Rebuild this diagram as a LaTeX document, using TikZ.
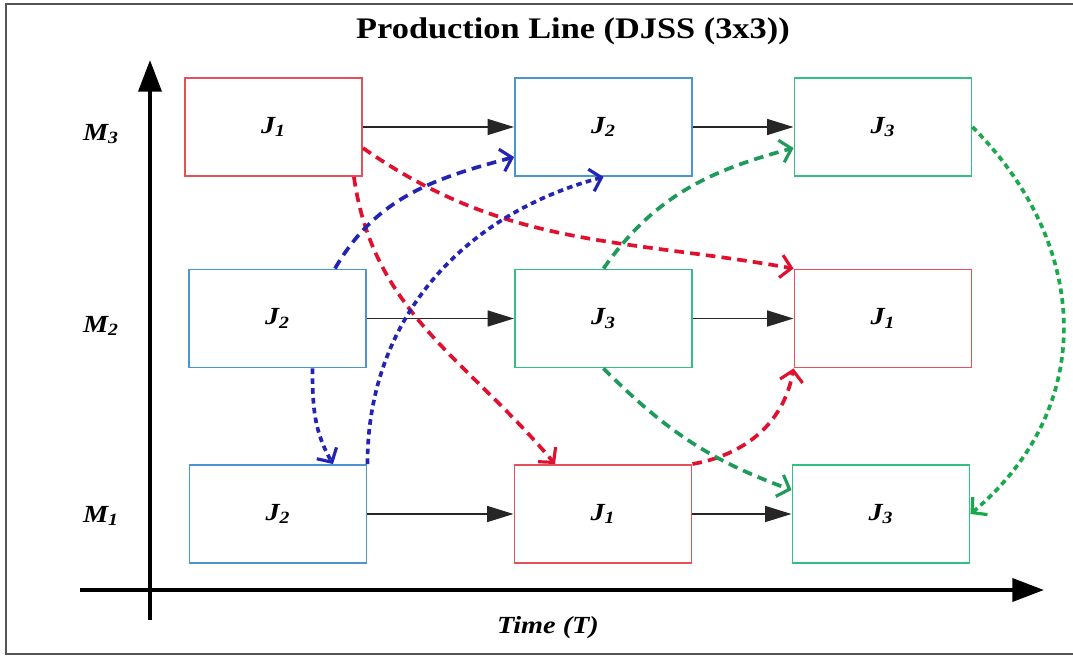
\documentclass[tikz,border=0pt]{standalone}
\usepackage{fontspec}
\setmainfont{Liberation Serif}[FakeStretch=1.15]
\usepackage{xcolor}
\usepackage{tikz}
\usetikzlibrary{positioning, arrows.meta, calc}
\definecolor{jobred}{HTML}{E4505C}
\definecolor{jobblue}{HTML}{4A96D2}
\definecolor{jobgreen}{HTML}{33BE82}
\definecolor{flowred}{HTML}{E0102F}
\definecolor{flowblue}{HTML}{2424B4}
\definecolor{flowgreen}{HTML}{1E9A5A}
\definecolor{framegray}{HTML}{555555}

\tikzset{
  jobbox/.style={draw=#1, line width=1.1pt, minimum width=3.54cm, minimum height=1.96cm,
                 inner sep=0pt, font=\fontsize{14}{16}\selectfont\bfseries\itshape},
  machine/.style={anchor=base, font=\fontsize{14}{16}\selectfont\bfseries\itshape},
  seq/.style={draw=black!85, line width=1.1pt, -{Triangle[length=15pt,width=9pt]}},
  flow/.style={draw=#1, line width=2.1pt, dash pattern=on 5.5pt off 3.5pt,
               -{Straight Barb[length=6pt,width=13pt,line width=1.8pt]}},
  fine/.style={dash pattern=on 3.2pt off 2.4pt},
  axis/.style={line width=2.3pt, -{Triangle[length=18pt,width=13pt]}},
}

\begin{document}
\begin{tikzpicture}[x=0.02cm, y=-0.02cm]
  \useasboundingbox (0,0) rectangle (1073,656);
  \draw[framegray, line width=1.5pt] (1073,4) -| (6,654) -- (1073,654);

  \node[anchor=base, font=\fontsize{17}{20}\selectfont\bfseries] (title) at (573,38)
    {Production Line (DJSS (3x3))};

  % axes
  \coordinate (origin) at (150,590);
  \coordinate (ybot) at (150,620);
  \coordinate (ytop) at (150,60);
  \coordinate (xleft) at (80,590);
  \coordinate (xright) at (1044,590);
  \draw[axis] (ybot) -- (ytop);
  \draw[axis] (xleft) -- (xright);
  \node[anchor=base, font=\fontsize{14}{16}\selectfont\bfseries\itshape] (time) at (548,633) {Time (T)};

  \node[machine] (m3) at (101,140) {M\textsubscript{3}};
  \node[machine] (m2) at (101,332) {M\textsubscript{2}};
  \node[machine] (m1) at (101,522) {M\textsubscript{1}};

  % jobs on each machine
  \node[jobbox=jobred]   (m3j1) at (273.5,127) {J\textsubscript{1}};
  \node[jobbox=jobblue]  (m3j2) at (603.5,127) {J\textsubscript{2}};
  \node[jobbox=jobgreen] (m3j3) at (883,127)   {J\textsubscript{3}};
  \node[jobbox=jobblue]  (m2j2) at (277.5,318.5) {J\textsubscript{2}};
  \node[jobbox=jobgreen] (m2j3) at (603.5,318.5) {J\textsubscript{3}};
  \node[jobbox=jobred]   (m2j1) at (883,318.5)   {J\textsubscript{1}};
  \node[jobbox=jobblue]  (m1j2) at (278,514) {J\textsubscript{2}};
  \node[jobbox=jobred]   (m1j1) at (603,514) {J\textsubscript{1}};
  \node[jobbox=jobgreen] (m1j3) at (881,514) {J\textsubscript{3}};

  \foreach \a/\b in {m3j1/m3j2, m3j2/m3j3, m2j2/m2j3, m2j3/m2j1, m1j2/m1j1, m1j1/m1j3}
    \draw[seq] (\a) -- (\b);

  % job J1
  \draw[flow=flowred] ([yshift=-0.42cm]m3j1.east) to[out=-35, in=170] (m2j1.north west);
  \draw[flow=flowred] ([xshift=-0.18cm]m3j1.south east) to[out=-82, in=130] ([xshift=-0.96cm]m1j1.north);
  \draw[flow=flowred] (m1j1.north east) to[out=10, in=-100] (m2j1.south west);
  % job J2
  \draw[flow=flowblue] ([xshift=1.15cm]m2j2.north) to[out=60, in=195] ([yshift=-0.6cm]m3j2.west);
  \draw[flow=flowblue, fine] (m1j2.north east) to[out=90, in=195] (m3j2.south);
  \draw[flow=flowblue, fine] ([xshift=0.7cm]m2j2.south) to[out=-90, in=120] ([xshift=1.1cm]m1j2.north);
  % job J3
  \draw[flow=flowgreen] (m2j3.north) to[out=55, in=195] ([yshift=-0.42cm]m3j3.west);
  \draw[flow=flowgreen] (m2j3.south) to[out=-45, in=160] ([yshift=0.48cm]m1j3.west);
  \draw[flow=flowgreen!85!green, fine] (m3j3.east) to[out=-45, in=40, looseness=1.1] (m1j3.east);
\end{tikzpicture}
\end{document}
